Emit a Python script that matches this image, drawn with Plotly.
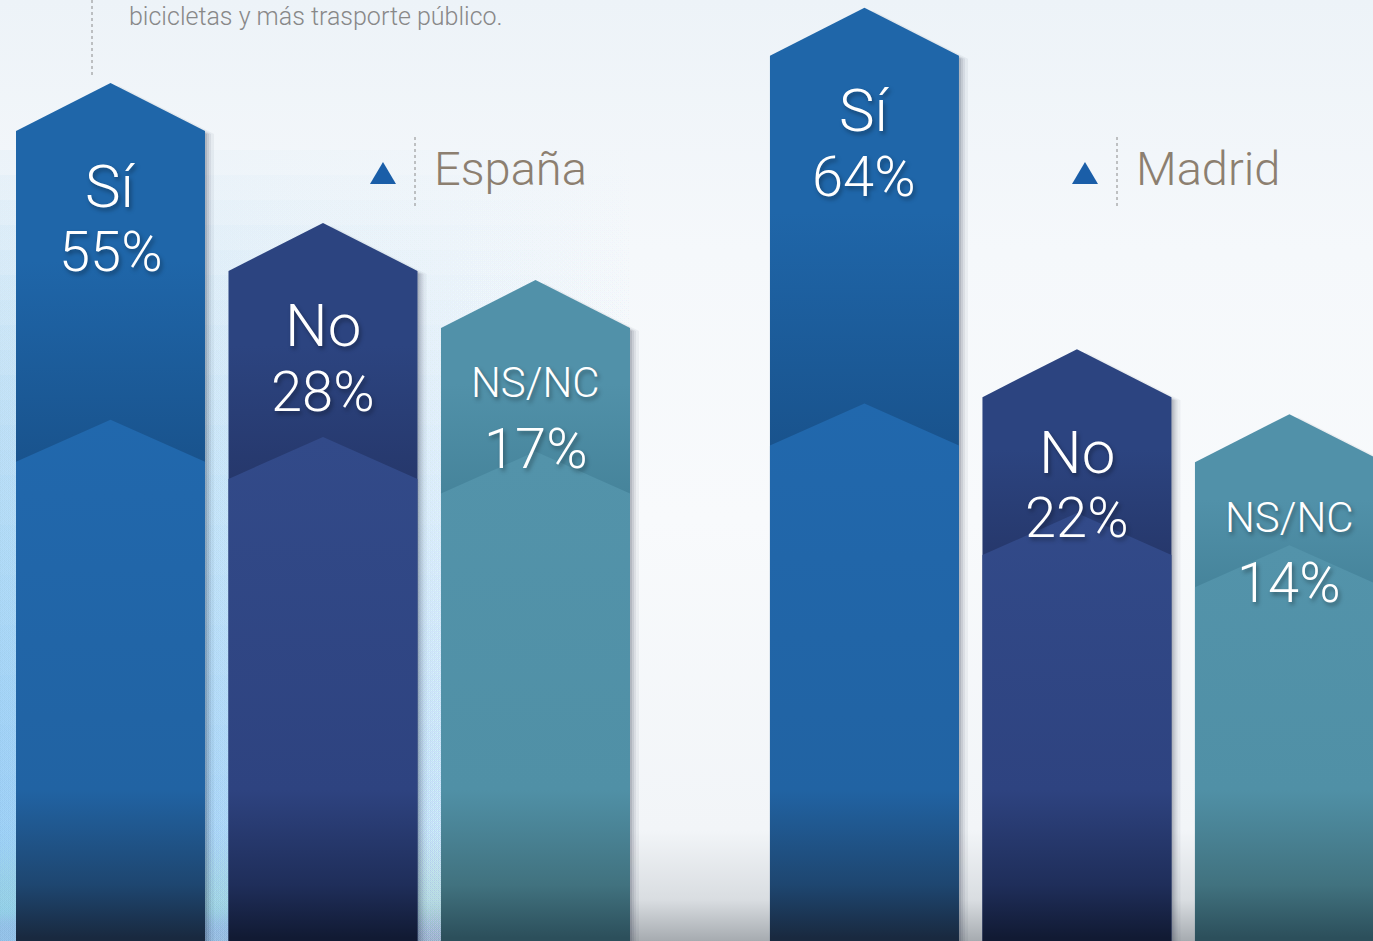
import plotly.graph_objects as go

# ---------------- data ----------------
groups = ["España", "Madrid"]
categories = ["Sí", "No", "NS/NC"]
espana_pct = [55, 28, 17]
madrid_pct = [64, 22, 14]
subtitle = "bicicletas y más trasporte público."
values = {"España": espana_pct, "Madrid": madrid_pct}

# ---------------- layout constants ----------------
W, H = 1373, 941
PITCH_PX = 212.5
FIRST_CENTER_PX = 110.5
GROUP_STEP = 3.548
BAR_HALF = 0.4447
APEX_PX = 48
X_RANGE = [-FIRST_CENTER_PX / PITCH_PX, (W - FIRST_CENTER_PX) / PITCH_PX]
Y_RANGES = {"España": [-101.35, 80.31], "Madrid": [-44.9, 70.85]}
AXIS = {"España": "y", "Madrid": "y2"}

PAL = {
    "Sí":    dict(top="#1f66a9", band="#19538d", ghost="#2168ad", low="#2163a3", deep="#1e4670", base="#19293f"),
    "No":    dict(top="#2c4480", band="#26386c", ghost="#324a89", low="#2e4380", deep="#1f2e5a", base="#111a33"),
    "NS/NC": dict(top="#5191a9", band="#46849b", ghost="#5393aa", low="#5090a6", deep="#41727f", base="#2c4f5b"),
}


def ppu(g):
    r = Y_RANGES[g]
    return H / (r[1] - r[0])


def v2px(g, v):
    r = Y_RANGES[g]
    return (r[1] - v) * ppu(g)


def px2v(g, px):
    r = Y_RANGES[g]
    return r[1] - px / ppu(g)


def grad(g, stops, top_px, bottom_px):
    span = bottom_px - top_px
    cs = []
    for p, c in stops:
        f = (bottom_px - p) / span
        f = round(min(max(f, 0.0), 1.0), 4)
        cs.append((f, c))
    cs.sort(key=lambda t: t[0])
    out = []
    for f, c in cs:
        if out and f <= out[-1][0]:
            continue
        out.append((f, c))
    if out[0][0] > 0:
        out.insert(0, (0.0, out[0][1]))
    if out[-1][0] < 1:
        out.append((1.0, out[-1][1]))
    return dict(type="vertical", colorscale=[[f, c] for f, c in out],
                start=px2v(g, bottom_px), stop=px2v(g, top_px))


fig = go.Figure()

# ---------------- background ----------------
bx = [X_RANGE[0] - 1, X_RANGE[1] + 1, X_RANGE[1] + 1, X_RANGE[0] - 1, X_RANGE[0] - 1]
btop, bbot = -5, H + 5
fig.add_trace(go.Scatter(
    x=bx, y=[px2v("España", btop)] * 2 + [px2v("España", bbot)] * 2 + [px2v("España", btop)],
    mode="none", fill="toself", hoverinfo="skip", showlegend=False,
    fillgradient=grad("España", [(0, "#edf3f8"), (250, "#f5f8fb"), (520, "#f8fafc"),
                                 (830, "#f2f5f8"), (900, "#d9dde1"), (941, "#a6abb0")], btop, bbot),
    yaxis="y"))

# soft blue tint on the left side (many faint strips -> smooth vertical fade)
TINT_RIGHT_PX = 650
xr_t = X_RANGE[0] + TINT_RIGHT_PX / PITCH_PX
for k in range(32):
    top_px = 150 + 25 * k
    fig.add_trace(go.Scatter(
        x=[X_RANGE[0] - 0.1, xr_t, xr_t, X_RANGE[0] - 0.1, X_RANGE[0] - 0.1],
        y=[px2v("España", top_px)] * 2 + [px2v("España", H + 5)] * 2 + [px2v("España", top_px)],
        mode="none", fill="toself", hoverinfo="skip", showlegend=False,
        fillgradient=dict(type="horizontal",
                          colorscale=[[0, "rgba(140,200,238,0.065)"], [1, "rgba(140,200,238,0)"]],
                          start=X_RANGE[0], stop=xr_t),
        yaxis="y"))

# ---------------- bars ----------------
for gi, g in enumerate(groups):
    yax = AXIS[g]
    apex_u = APEX_PX / ppu(g)
    ybot = px2v(g, H + 30)
    for ci, (cat, v) in enumerate(zip(categories, values[g])):
        pal = PAL[cat]
        xc = gi * GROUP_STEP + ci
        xl, xr = xc - BAR_HALF, xc + BAR_HALF
        shoulder_px = v2px(g, v)
        apex_px = shoulder_px - APEX_PX

        # soft drop shadow
        for dx, a in [(9, 0.05), (6, 0.07), (4, 0.09), (2, 0.12)]:
            du = dx / PITCH_PX
            dy = 3 / ppu(g)
            fig.add_trace(go.Scatter(
                x=[xl + du, xl + du, xc + du, xr + du, xr + du, xl + du],
                y=[ybot, v - dy, v + apex_u - dy, v - dy, ybot, ybot],
                mode="none", fill="toself", fillcolor=f"rgba(25,35,55,{a})",
                hoverinfo="skip", showlegend=False, yaxis=yax))

        # reflection chevron position
        f = 0.2 + 0.0035 * v
        ghost_apex_px = apex_px + f * (H - apex_px)
        ghost_sh_px = ghost_apex_px + 42

        # main arrow
        fig.add_trace(go.Scatter(
            x=[xl, xl, xc, xr, xr, xl],
            y=[ybot, v, v + apex_u, v, ybot, ybot],
            mode="none", fill="toself", hoverinfo="skip", showlegend=False,
            fillgradient=grad(g, [(apex_px, pal["top"]),
                                  (shoulder_px + 0.45 * (ghost_apex_px - shoulder_px), pal["top"]),
                                  (ghost_sh_px, pal["band"]), (H + 30, pal["band"])],
                              apex_px, H + 30),
            yaxis=yax))

        # lighter lower chevron
        ga = px2v(g, ghost_apex_px)
        gs = px2v(g, ghost_sh_px)
        fig.add_trace(go.Scatter(
            x=[xl, xl, xc, xr, xr, xl],
            y=[ybot, gs, ga, gs, ybot, ybot],
            mode="none", fill="toself", hoverinfo="skip", showlegend=False,
            fillgradient=grad(g, [(ghost_apex_px, pal["ghost"]), (790, pal["low"]),
                                  (885, pal["deep"]), (938, pal["base"]), (H + 30, pal["base"])],
                              ghost_apex_px, H + 30),
            yaxis=yax))

# ---------------- labels ----------------
annotations = []
shadow = "2px 3px 4px rgba(0,0,0,0.35)"
for gi, g in enumerate(groups):
    for ci, (cat, v) in enumerate(zip(categories, values[g])):
        xc = gi * GROUP_STEP + ci
        small = cat == "NS/NC"
        annotations.append(dict(
            x=xc, y=v, xref="x", yref=AXIS[g], text=cat, showarrow=False,
            yanchor="middle", xanchor="center", yshift=-55,
            font=dict(family="Roboto, Lato, sans-serif", size=42 if small else 60,
                      color="white", weight=300, shadow=shadow)))
        annotations.append(dict(
            x=xc, y=v, xref="x", yref=AXIS[g], text=f"{v}%", showarrow=False,
            yanchor="middle", xanchor="center", yshift=-121,
            font=dict(family="Roboto, Lato, sans-serif", size=56,
                      color="white", weight=300, shadow=shadow)))

# group headers
header_left_px = {"España": 432, "Madrid": 1134}
for g in groups:
    annotations.append(dict(
        x=header_left_px[g] / W, y=1 - 168 / H, xref="paper", yref="paper",
        text=g, showarrow=False, xanchor="left", yanchor="middle",
        font=dict(family="Roboto, Lato, sans-serif", size=47, color="#8c7f70", weight=300)))

annotations.append(dict(
    x=127 / W, y=1 - 17 / H, xref="paper", yref="paper", text=subtitle,
    showarrow=False, xanchor="left", yanchor="middle",
    font=dict(family="Roboto, Lato, sans-serif", size=25, color="#888888", weight=300)))

shapes = []


def P(px, py):
    return f"{px / W:.5f},{1 - py / H:.5f}"


for tri_c, line_x in [(383, 415), (1085, 1117)]:
    shapes.append(dict(type="path", xref="paper", yref="paper",
                       path=f"M{P(tri_c - 13, 184)} L{P(tri_c, 162)} L{P(tri_c + 13, 184)} Z",
                       fillcolor="#1a5ea8", line=dict(width=0)))
    shapes.append(dict(type="line", xref="paper", yref="paper",
                       x0=line_x / W, x1=line_x / W, y0=1 - 137 / H, y1=1 - 206 / H,
                       line=dict(color="#8a8a8a", width=1, dash="dot")))

shapes.append(dict(type="line", xref="paper", yref="paper",
                   x0=92 / W, x1=92 / W, y0=1.0, y1=1 - 75 / H,
                   line=dict(color="#8a8a8a", width=1, dash="dot")))
shapes.append(dict(type="path", xref="paper", yref="paper",
                   path=f"M{P(1340, 35)} L{P(1356, 0)} L{P(1373, 0)} L{P(1373, 35)} Z",
                   fillcolor="#dceaf5", line=dict(width=0), layer="below"))

fig.update_layout(
    width=W, height=H, margin=dict(l=0, r=0, t=0, b=0),
    paper_bgcolor="#f6f8fb", plot_bgcolor="#f6f8fb",
    xaxis=dict(range=X_RANGE, visible=False, fixedrange=True),
    yaxis=dict(range=Y_RANGES["España"], visible=False, fixedrange=True),
    yaxis2=dict(range=Y_RANGES["Madrid"], visible=False, fixedrange=True, overlaying="y"),
    annotations=annotations, shapes=shapes, showlegend=False,
)

fig.write_html("out.html", config={"displayModeBar": False},
               post_script="document.body.style.margin='0px';document.body.style.overflow='hidden';")
